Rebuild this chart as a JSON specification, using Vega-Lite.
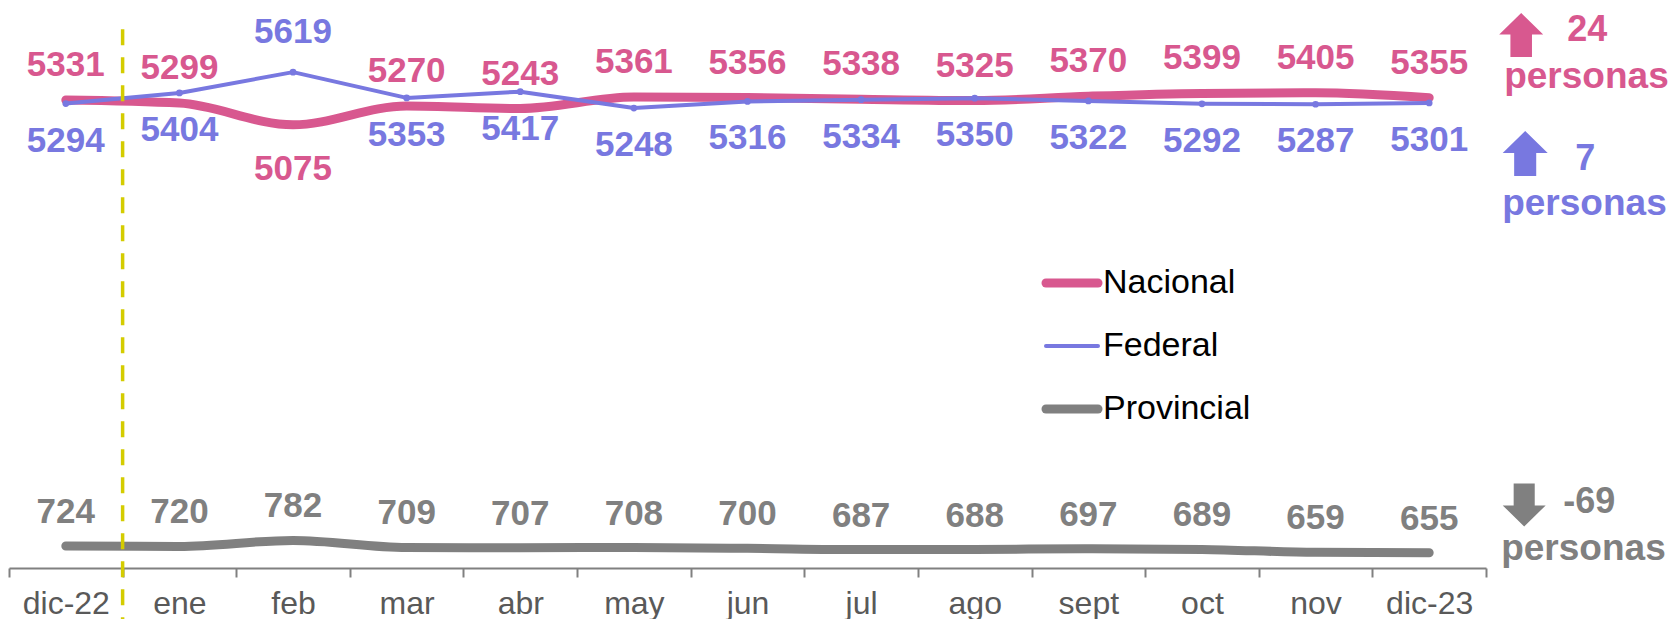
{
  "$schema": "https://vega.github.io/schema/vega-lite/v6.json",
  "autosize": {"type": "none"},
  "padding": {"left": 9, "top": 0, "right": 187, "bottom": 51},
  "width": 1477,
  "height": 568,
  "background": "white",
  "config": {"font": "Liberation Sans", "view": {"stroke": null}},
  "datasets": {
    "empleo": [
      {"mes": "dic-22", "serie": "Nacional", "valor": 5331},
      {"mes": "ene", "serie": "Nacional", "valor": 5299},
      {"mes": "feb", "serie": "Nacional", "valor": 5075},
      {"mes": "mar", "serie": "Nacional", "valor": 5270},
      {"mes": "abr", "serie": "Nacional", "valor": 5243},
      {"mes": "may", "serie": "Nacional", "valor": 5361},
      {"mes": "jun", "serie": "Nacional", "valor": 5356},
      {"mes": "jul", "serie": "Nacional", "valor": 5338},
      {"mes": "ago", "serie": "Nacional", "valor": 5325},
      {"mes": "sept", "serie": "Nacional", "valor": 5370},
      {"mes": "oct", "serie": "Nacional", "valor": 5399},
      {"mes": "nov", "serie": "Nacional", "valor": 5405},
      {"mes": "dic-23", "serie": "Nacional", "valor": 5355},
      {"mes": "dic-22", "serie": "Federal", "valor": 5294},
      {"mes": "ene", "serie": "Federal", "valor": 5404},
      {"mes": "feb", "serie": "Federal", "valor": 5619},
      {"mes": "mar", "serie": "Federal", "valor": 5353},
      {"mes": "abr", "serie": "Federal", "valor": 5417},
      {"mes": "may", "serie": "Federal", "valor": 5248},
      {"mes": "jun", "serie": "Federal", "valor": 5316},
      {"mes": "jul", "serie": "Federal", "valor": 5334},
      {"mes": "ago", "serie": "Federal", "valor": 5350},
      {"mes": "sept", "serie": "Federal", "valor": 5322},
      {"mes": "oct", "serie": "Federal", "valor": 5292},
      {"mes": "nov", "serie": "Federal", "valor": 5287},
      {"mes": "dic-23", "serie": "Federal", "valor": 5301},
      {"mes": "dic-22", "serie": "Provincial", "valor": 724},
      {"mes": "ene", "serie": "Provincial", "valor": 720},
      {"mes": "feb", "serie": "Provincial", "valor": 782},
      {"mes": "mar", "serie": "Provincial", "valor": 709},
      {"mes": "abr", "serie": "Provincial", "valor": 707},
      {"mes": "may", "serie": "Provincial", "valor": 708},
      {"mes": "jun", "serie": "Provincial", "valor": 700},
      {"mes": "jul", "serie": "Provincial", "valor": 687},
      {"mes": "ago", "serie": "Provincial", "valor": 688},
      {"mes": "sept", "serie": "Provincial", "valor": 697},
      {"mes": "oct", "serie": "Provincial", "valor": 689},
      {"mes": "nov", "serie": "Provincial", "valor": 659},
      {"mes": "dic-23", "serie": "Provincial", "valor": 655}
    ],
    "uno": [{"k": 1}]
  },
  "layer": [
    {
      "data": {"name": "empleo"},
      "transform": [{"filter": "datum.serie == 'Nacional'"}],
      "mark": {"type": "line", "interpolate": "monotone", "strokeWidth": 9, "strokeCap": "round", "strokeJoin": "round"},
      "encoding": {
        "x": {
          "field": "mes", "type": "nominal",
          "sort": ["dic-22", "ene", "feb", "mar", "abr", "may", "jun", "jul", "ago", "sept", "oct", "nov", "dic-23"],
          "scale": {"type": "band", "paddingInner": 0, "paddingOuter": 0},
          "axis": {
            "title": null, "labelAngle": 0, "tickBand": "extent",
            "domainColor": "#808080", "domainWidth": 2,
            "tickColor": "#808080", "tickWidth": 2, "tickSize": 9,
            "labelFont": "Liberation Sans", "labelFontSize": 32, "labelColor": "#595959",
            "labelPadding": 11, "grid": false
          }
        },
        "y": {"field": "valor", "type": "quantitative", "scale": {"domain": [497, 6364], "nice": false, "zero": false}, "axis": null},
        "color": {
          "field": "serie", "type": "nominal",
          "scale": {"domain": ["Nacional", "Federal", "Provincial"], "range": ["#D8588F", "#7878E0", "#808080"]},
          "legend": {
            "title": null, "orient": "none", "legendX": 1046, "legendY": 266, "padding": 0,
            "symbolType": "stroke", "symbolSize": 2704, "symbolStrokeWidth": 9,
            "labelFont": "Liberation Sans", "labelFontSize": 34, "labelColor": "#000000",
            "labelOffset": 14, "rowPadding": 28,
            "encode": {"symbols": {"update": {
              "strokeWidth": {"signal": "datum.value === 'Federal' ? 4 : 9"},
              "strokeCap": {"value": "round"}
            }}}
          }
        }
      }
    },
    {
      "data": {"name": "empleo"},
      "transform": [{"filter": "datum.serie == 'Federal'"}],
      "mark": {"type": "line", "interpolate": "linear", "strokeWidth": 4, "strokeCap": "round", "strokeJoin": "round"},
      "encoding": {
        "x": {"field": "mes", "type": "nominal", "sort": ["dic-22", "ene", "feb", "mar", "abr", "may", "jun", "jul", "ago", "sept", "oct", "nov", "dic-23"]},
        "y": {"field": "valor", "type": "quantitative"},
        "color": {"field": "serie", "type": "nominal"}
      }
    },
    {
      "data": {"name": "empleo"},
      "transform": [{"filter": "datum.serie == 'Provincial'"}],
      "mark": {"type": "line", "interpolate": "monotone", "strokeWidth": 9, "strokeCap": "round", "strokeJoin": "round"},
      "encoding": {
        "x": {"field": "mes", "type": "nominal", "sort": ["dic-22", "ene", "feb", "mar", "abr", "may", "jun", "jul", "ago", "sept", "oct", "nov", "dic-23"]},
        "y": {"field": "valor", "type": "quantitative"},
        "color": {"field": "serie", "type": "nominal"}
      }
    },
    {
      "data": {"name": "empleo"},
      "transform": [{"filter": "datum.serie == 'Federal'"}],
      "mark": {"type": "point", "filled": true, "size": 45, "opacity": 1, "color": "#7878E0"},
      "encoding": {
        "x": {"field": "mes", "type": "nominal", "sort": ["dic-22", "ene", "feb", "mar", "abr", "may", "jun", "jul", "ago", "sept", "oct", "nov", "dic-23"]},
        "y": {"field": "valor", "type": "quantitative"}
      }
    },
    {
      "data": {"name": "empleo"},
      "transform": [{"filter": "datum.serie == 'Nacional' && datum.mes != 'feb'"}],
      "mark": {"type": "text", "font": "Liberation Sans", "fontWeight": "bold", "fontSize": 35, "baseline": "middle", "align": "center", "dy": -35, "color": "#D8588F"},
      "encoding": {
        "x": {"field": "mes", "type": "nominal", "sort": ["dic-22", "ene", "feb", "mar", "abr", "may", "jun", "jul", "ago", "sept", "oct", "nov", "dic-23"]},
        "y": {"field": "valor", "type": "quantitative"},
        "text": {"field": "valor", "type": "quantitative", "format": "d"}
      }
    },
    {
      "data": {"name": "empleo"},
      "transform": [{"filter": "datum.serie == 'Nacional' && datum.mes == 'feb'"}],
      "mark": {"type": "text", "font": "Liberation Sans", "fontWeight": "bold", "fontSize": 35, "baseline": "middle", "align": "center", "dy": 44, "color": "#D8588F"},
      "encoding": {
        "x": {"field": "mes", "type": "nominal", "sort": ["dic-22", "ene", "feb", "mar", "abr", "may", "jun", "jul", "ago", "sept", "oct", "nov", "dic-23"]},
        "y": {"field": "valor", "type": "quantitative"},
        "text": {"field": "valor", "type": "quantitative", "format": "d"}
      }
    },
    {
      "data": {"name": "empleo"},
      "transform": [{"filter": "datum.serie == 'Federal' && datum.mes != 'feb'"}],
      "mark": {"type": "text", "font": "Liberation Sans", "fontWeight": "bold", "fontSize": 35, "baseline": "middle", "align": "center", "dy": 37, "color": "#7878E0"},
      "encoding": {
        "x": {"field": "mes", "type": "nominal", "sort": ["dic-22", "ene", "feb", "mar", "abr", "may", "jun", "jul", "ago", "sept", "oct", "nov", "dic-23"]},
        "y": {"field": "valor", "type": "quantitative"},
        "text": {"field": "valor", "type": "quantitative", "format": "d"}
      }
    },
    {
      "data": {"name": "empleo"},
      "transform": [{"filter": "datum.serie == 'Federal' && datum.mes == 'feb'"}],
      "mark": {"type": "text", "font": "Liberation Sans", "fontWeight": "bold", "fontSize": 35, "baseline": "middle", "align": "center", "dy": -40, "color": "#7878E0"},
      "encoding": {
        "x": {"field": "mes", "type": "nominal", "sort": ["dic-22", "ene", "feb", "mar", "abr", "may", "jun", "jul", "ago", "sept", "oct", "nov", "dic-23"]},
        "y": {"field": "valor", "type": "quantitative"},
        "text": {"field": "valor", "type": "quantitative", "format": "d"}
      }
    },
    {
      "data": {"name": "empleo"},
      "transform": [{"filter": "datum.serie == 'Provincial'"}],
      "mark": {"type": "text", "font": "Liberation Sans", "fontWeight": "bold", "fontSize": 35, "baseline": "middle", "align": "center", "dy": -34, "color": "#808080"},
      "encoding": {
        "x": {"field": "mes", "type": "nominal", "sort": ["dic-22", "ene", "feb", "mar", "abr", "may", "jun", "jul", "ago", "sept", "oct", "nov", "dic-23"]},
        "y": {"field": "valor", "type": "quantitative"},
        "text": {"field": "valor", "type": "quantitative", "format": "d"}
      }
    },
    {
      "data": {"name": "uno"},
      "mark": {"type": "rule", "color": "#D4CC00", "strokeWidth": 3.5, "strokeDash": [16, 12], "clip": false},
      "encoding": {
        "x": {"datum": "ene", "bandPosition": 0},
        "y": {"datum": 6061},
        "y2": {"datum": -40}
      }
    },
    {
      "data": {"name": "uno"},
      "mark": {"type": "point", "shape": "M0,-1L1,-0.02L0.49,-0.02L0.49,1L-0.49,1L-0.49,-0.02L-1,-0.02Z", "filled": true, "opacity": 1, "size": 1936, "color": "#D8588F", "xOffset": 92},
      "encoding": {"x": {"datum": "dic-23"}, "y": {"datum": 6002}}
    },
    {
      "data": {"name": "uno"},
      "mark": {"type": "text", "font": "Liberation Sans", "fontWeight": "bold", "fontSize": 36, "baseline": "middle", "align": "left", "dx": 138, "color": "#D8588F"},
      "encoding": {"x": {"datum": "dic-23"}, "y": {"datum": 6055}, "text": {"value": "24"}}
    },
    {
      "data": {"name": "uno"},
      "mark": {"type": "text", "font": "Liberation Sans", "fontWeight": "bold", "fontSize": 37, "baseline": "alphabetic", "align": "left", "dx": 75, "color": "#D8588F"},
      "encoding": {"x": {"datum": "dic-23"}, "y": {"datum": 5455}, "text": {"value": "personas"}}
    },
    {
      "data": {"name": "uno"},
      "mark": {"type": "point", "shape": "M0,-1L1,-0.02L0.49,-0.02L0.49,1L-0.49,1L-0.49,-0.02L-1,-0.02Z", "filled": true, "opacity": 1, "size": 2025, "color": "#7878E0", "xOffset": 96},
      "encoding": {"x": {"datum": "dic-23"}, "y": {"datum": 4778}}
    },
    {
      "data": {"name": "uno"},
      "mark": {"type": "text", "font": "Liberation Sans", "fontWeight": "bold", "fontSize": 36, "baseline": "middle", "align": "left", "dx": 146, "color": "#7878E0"},
      "encoding": {"x": {"datum": "dic-23"}, "y": {"datum": 4722}, "text": {"value": "7"}}
    },
    {
      "data": {"name": "uno"},
      "mark": {"type": "text", "font": "Liberation Sans", "fontWeight": "bold", "fontSize": 37, "baseline": "alphabetic", "align": "left", "dx": 73, "color": "#7878E0"},
      "encoding": {"x": {"datum": "dic-23"}, "y": {"datum": 4142}, "text": {"value": "personas"}}
    },
    {
      "data": {"name": "uno"},
      "mark": {"type": "point", "shape": "M0,1L1,0.02L0.49,0.02L0.49,-1L-0.49,-1L-0.49,0.02L-1,0.02Z", "filled": true, "opacity": 1, "size": 1849, "color": "#808080", "xOffset": 95},
      "encoding": {"x": {"datum": "dic-23"}, "y": {"datum": 1148}}
    },
    {
      "data": {"name": "uno"},
      "mark": {"type": "text", "font": "Liberation Sans", "fontWeight": "bold", "fontSize": 36, "baseline": "middle", "align": "left", "dx": 134, "color": "#808080"},
      "encoding": {"x": {"datum": "dic-23"}, "y": {"datum": 1179}, "text": {"value": "-69"}}
    },
    {
      "data": {"name": "uno"},
      "mark": {"type": "text", "font": "Liberation Sans", "fontWeight": "bold", "fontSize": 37, "baseline": "alphabetic", "align": "left", "dx": 72, "color": "#808080"},
      "encoding": {"x": {"datum": "dic-23"}, "y": {"datum": 580}, "text": {"value": "personas"}}
    }
  ]
}
